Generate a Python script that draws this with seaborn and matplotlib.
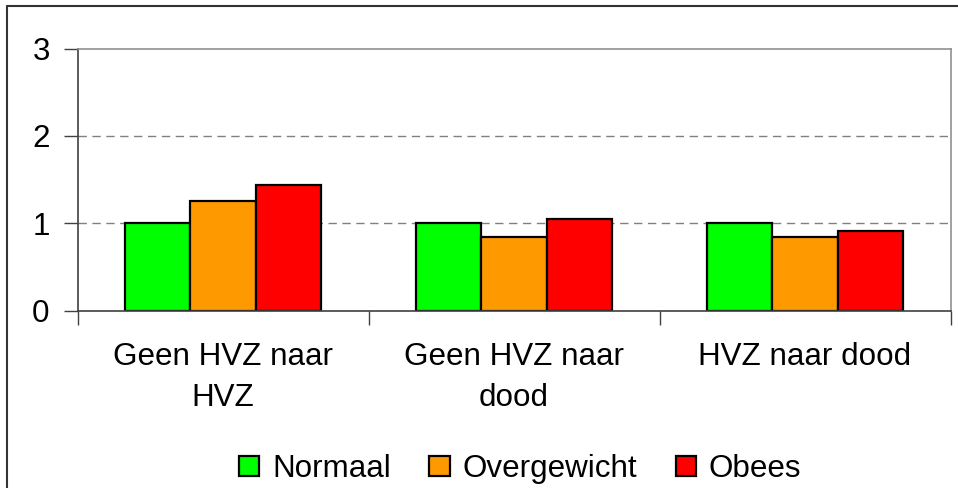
import matplotlib
matplotlib.use("Agg")
import matplotlib.pyplot as plt
import seaborn as sns
import pandas as pd
from matplotlib.lines import Line2D

categories = ["Geen HVZ naar\nHVZ", "Geen HVZ naar\ndood", "HVZ naar dood"]
series_names = ["Normaal", "Overgewicht", "Obees"]
normaal = [1.0, 1.0, 1.0]
overgewicht = [1.25, 0.84, 0.84]
obees = [1.44, 1.05, 0.91]
colors = ["#00FF00", "#FF9900", "#FF0000"]
y_ticks = [0, 1, 2, 3]

rows = []
for name, vals in zip(series_names, [normaal, overgewicht, obees]):
    for c, v in zip(categories, vals):
        rows.append({"categorie": c, "groep": name, "waarde": v})
df = pd.DataFrame(rows)

sns.set_style("white")
plt.rcParams["font.family"] = ["Liberation Sans", "DejaVu Sans"]
plt.rcParams["text.color"] = "black"
plt.rcParams["xtick.color"] = "black"
plt.rcParams["ytick.color"] = "black"

FS = 22.6

fig = plt.figure(figsize=(9.58, 4.88), dpi=100)
ax = fig.add_axes([77.5 / 958, 1 - 310.5 / 488, (950.5 - 77.5) / 958, (310.5 - 48.5) / 488])

sns.barplot(data=df, x="categorie", y="waarde", hue="groep", order=categories,
            hue_order=series_names, palette=colors, width=0.674, gap=0,
            edgecolor="black", linewidth=1.6, saturation=1, ax=ax, legend=True)

ax.set_xlim(-0.5, 2.5)
ax.set_ylim(0, 3)
ax.set_yticks(y_ticks)
ax.set_yticklabels([str(t) for t in y_ticks])
ax.set_xlabel("")
ax.set_ylabel("")

for y in [1, 2]:
    ax.axhline(y, color="#808080", lw=1.0, ls=(0, (6, 4)), zorder=0)

for s in ["left", "bottom"]:
    ax.spines[s].set_color("#404040")
    ax.spines[s].set_linewidth(1.2)
for s in ["top", "right"]:
    ax.spines[s].set_color("#909090")
    ax.spines[s].set_linewidth(1.2)

ax.tick_params(axis="y", which="major", length=10, width=1, color="#404040",
               labelsize=FS, pad=10, left=True, labelcolor="black")
ax.set_xticks([-0.5, 0.5, 1.5, 2.5], minor=True)
ax.tick_params(axis="x", which="minor", length=10, width=1, color="#404040", bottom=True)
ax.tick_params(axis="x", which="major", length=0, labelsize=FS, pad=23, labelcolor="black")
for lbl in ax.get_xticklabels():
    lbl.set_linespacing(1.45)

leg = ax.legend(loc="upper center", bbox_to_anchor=(0.507, -0.50), ncol=3, frameon=False,
                fontsize=FS, handlelength=0.64, handleheight=0.64, handletextpad=0.41,
                columnspacing=1.23, borderaxespad=0)
for h in leg.legend_handles:
    h.set_edgecolor("black")
    h.set_linewidth(1.6)
for t in leg.get_texts():
    t.set_color("black")

fig.add_artist(Line2D([7 / 958, 7 / 958], [0, 1 - 6 / 488], transform=fig.transFigure,
                      color="#333333", lw=1.5))
fig.add_artist(Line2D([7 / 958, 1], [1 - 6 / 488, 1 - 6 / 488], transform=fig.transFigure,
                      color="#333333", lw=1.5))

fig.savefig("out.png", dpi=100)
